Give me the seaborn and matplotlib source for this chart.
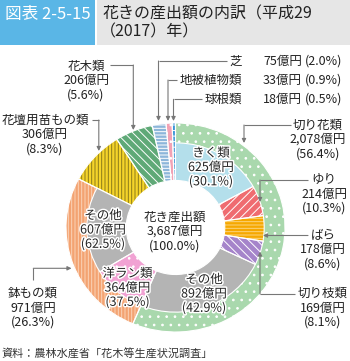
import matplotlib
matplotlib.use('Agg')
import matplotlib.pyplot as plt
import matplotlib.patheffects as pe
from matplotlib.patches import Rectangle
import seaborn as sns

sns.set_theme(style='white')
plt.rcParams['font.family'] = ['Noto Sans CJK JP', 'DejaVu Sans']
plt.rcParams['hatch.linewidth'] = 0.7

# ---- data ----
outer_names = ['切り花類', '鉢もの類', '花壇用苗もの類', '花木類', '芝', '地被植物類', '球根類']
outer_values = [2078, 971, 306, 206, 75, 33, 18]
outer_pcts = [56.4, 26.3, 8.3, 5.6, 2.0, 0.9, 0.5]
cut_names = ['きく類', 'ゆり', 'ばら', '切り枝類', 'その他']
cut_values = [625, 214, 178, 169, 892]
cut_pcts = [30.1, 10.3, 8.6, 8.1, 42.9]
pot_names = ['洋ラン類', 'その他']
pot_values = [364, 607]
pot_pcts = [37.5, 62.5]
total_name = '花き産出額'
total_value = 3687

# ---- styles: (face, hatch, hatch colour) ----
outer_styles = [
    ('#a9d8ad', '..', 'white'),
    ('#f3a372', '|||||', '#fbd3b8'),
    ('#f5d42a', '|||||', '#8c7a18'),
    ('#5fa977', '\\\\\\\\', 'white'),
    ('#8db6da', '-----', 'white'),
    ('#f2a2b4', '..', 'white'),
    ('#3a95d8', '---', 'white'),
]
cut_styles = [
    ('#b4dfeb', None, 'white'),
    ('#ef6c70', '////', 'white'),
    ('#f6a800', '-----', '#fcd47e'),
    ('#a584ca', '\\\\\\\\', 'white'),
    ('#b4b4b4', None, 'white'),
]
pot_styles = [
    ('#f1a2d3', '..', 'white'),
    ('#b4b4b4', None, 'white'),
]

W, H = 350, 361
fig = plt.figure(figsize=(W / 100, H / 100), dpi=100)
fig.patch.set_facecolor('white')

# pie axes placed in pixel geometry
cx, cy, rx, ry = 175.5, 227.5, 109.5, 104.5
ax = fig.add_axes([(cx - rx) / W, (H - cy - ry) / H, 2 * rx / W, 2 * ry / H])
R_OUT, R_MID, R_IN = 1.0, 0.81, 0.45


def styled_pie(values, styles, radius, width, hidden_tail=None):
    vals = list(values)
    if hidden_tail is not None:
        vals = vals + [hidden_tail]
    wedges, _ = ax.pie(vals, radius=radius, startangle=90, counterclock=False,
                       wedgeprops=dict(width=width, linewidth=0))
    for i, w in enumerate(wedges):
        if i >= len(styles):
            w.set_visible(False)
            continue
        face, hatch, hcol = styles[i]
        w.set_facecolor(face)
        w.set_edgecolor(hcol)
        w.set_linewidth(0)
        if hatch:
            w.set_hatch(hatch)
    # white separators
    sep, _ = ax.pie(vals, radius=radius, startangle=90, counterclock=False,
                    wedgeprops=dict(width=width, facecolor='none',
                                    edgecolor='white', linewidth=0.8))
    for i, w in enumerate(sep):
        if i >= len(styles):
            w.set_visible(False)


styled_pie(outer_values, outer_styles, R_OUT, R_OUT - R_IN)
rest = sum(outer_values[2:])
styled_pie(cut_values + pot_values, cut_styles + pot_styles, R_MID, R_MID - R_IN,
           hidden_tail=rest)
ax.set_aspect('auto')
ax.set_xlim(-1, 1)
ax.set_ylim(-1, 1)
ax.axis('off')

# overlay in pixel coords
ov = fig.add_axes([0, 0, 1, 1])
ov.set_xlim(0, W)
ov.set_ylim(H, 0)
ov.axis('off')
ov.set_zorder(5)

# header
ov.add_patch(Rectangle((0, 0), 95, 45, facecolor='#5ab6e6', edgecolor='none'))
ov.add_patch(Rectangle((97, 0), W - 97, 45, facecolor='#e6e6e6', edgecolor='none'))
ov.text(5, 14.5, '図表 2-5-15', color='white', fontsize=12, ha='left', va='center')
ov.text(103, 14, '花きの産出額の内訳（平成29', color='#222222', fontsize=11.5, ha='left', va='center')
ov.text(100, 31.5, '（2017）年）', color='#222222', fontsize=11.5, ha='left', va='center')

TXT = '#222222'
FS = 9
LC = '#777777'


def label(x, y, name, val, pct, halo=False, fmt='{:.1f}'):
    s = f'{name}\n{val:,}億円\n(' + fmt.format(pct) + '%)'
    t = ov.text(x, y, s, ha='center', va='center', fontsize=FS, color=TXT,
                linespacing=1.13)
    if halo:
        t.set_path_effects([pe.withStroke(linewidth=2.2, foreground='white')])


def leader(pts):
    xs = [p[0] for p in pts]
    ys = [p[1] for p in pts]
    ov.plot(xs[:-1], ys[:-1], color=LC, lw=0.8, solid_capstyle='butt')
    ov.annotate('', xy=pts[-1], xytext=pts[-2],
                arrowprops=dict(arrowstyle='-|>', color=LC, lw=0.8,
                                mutation_scale=6, shrinkA=0, shrinkB=0))


# outer category labels
label(318, 139.5, outer_names[0], outer_values[0], outer_pcts[0])
leader([(291, 125), (244, 125), (244, 143)])
label(33, 308, outer_names[1], outer_values[1], outer_pcts[1])
leader([(33.3, 280), (33.3, 268.3), (71.5, 268.3)])
label(45, 134.5, outer_names[2], outer_values[2], outer_pcts[2])
leader([(91.7, 120), (98.8, 120), (98.8, 151)])
label(86, 80.5, outer_names[3], outer_values[3], outer_pcts[3])
leader([(110, 65), (133.3, 65), (133.3, 130)])

# small categories at top-right
small_rows = [61, 80, 99.3]
small_arrow_x = [158.5, 168, 173.5]
for k, i in enumerate([4, 5, 6]):
    y = small_rows[k]
    ov.text(242, y, outer_names[i], ha='right', va='center', fontsize=FS, color=TXT)
    ov.text(302, y, f'{outer_values[i]}億円', ha='right', va='center', fontsize=FS, color=TXT)
    ov.text(305, y, f'({outer_pcts[i]:.1f}%)', ha='left', va='center', fontsize=FS, color=TXT)
    x0 = 242 - len(outer_names[i]) * 12.5 - 3
    leader([(x0, y), (small_arrow_x[k], y), (small_arrow_x[k], 121)])

# cut-flower breakdown labels
label(211, 167.5, cut_names[0], cut_values[0], cut_pcts[0], halo=True)
label(324, 194, cut_names[1], cut_values[1], cut_pcts[1])
leader([(308, 180), (260, 180), (260, 202)])
label(323, 249.5, cut_names[2], cut_values[2], cut_pcts[2])
leader([(308, 235.5), (263, 235.5)])
label(323, 308, cut_names[3], cut_values[3], cut_pcts[3])
leader([(295, 294), (260, 294), (260, 251.5)])
label(204, 294, cut_names[4], cut_values[4], cut_pcts[4], halo=True)

# potted breakdown labels
label(127.5, 288, pot_names[0], pot_values[0], pot_pcts[0], halo=True)
label(103, 230, pot_names[1], pot_values[1], pot_pcts[1], halo=True)

# centre
label(175, 231.5, total_name, total_value, 100.0)

# source
ov.text(2, 353, '資料：農林水産省「花木等生産状況調査」', ha='left', va='center',
        fontsize=8, color='#333333')

fig.savefig('out.png', dpi=100)
